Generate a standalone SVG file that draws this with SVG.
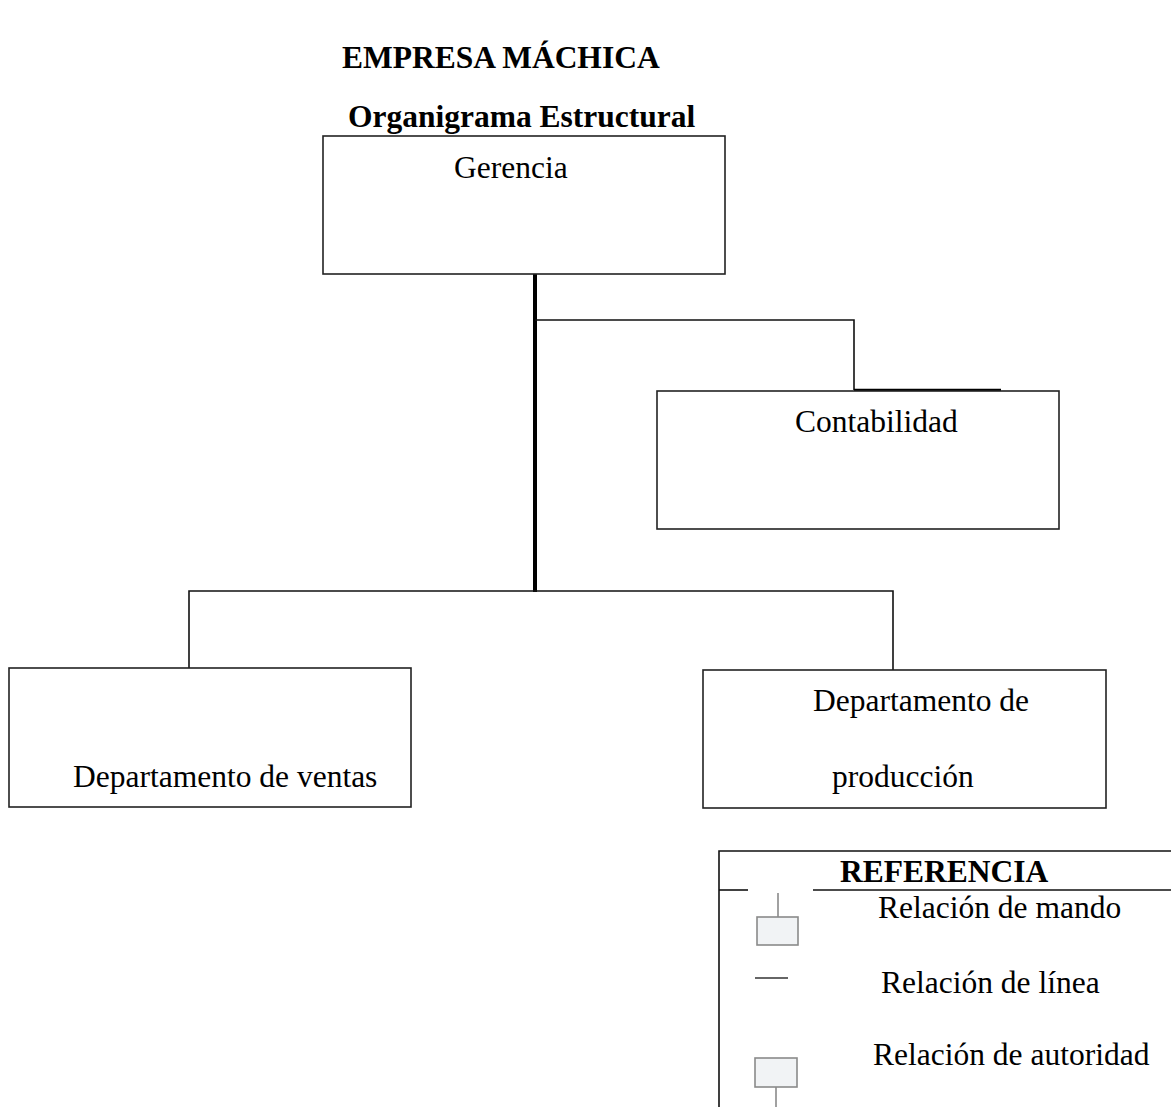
<svg xmlns="http://www.w3.org/2000/svg" width="1171" height="1107" viewBox="0 0 1171 1107">
<style>
text{font-family:"Liberation Serif","Times New Roman",serif;font-size:31.5px;fill:#000}
.b{font-weight:bold}
.box{fill:#fff;stroke:#222;stroke-width:1.6}
.ln{stroke:#111;stroke-width:1.6;fill:none}
.icon{fill:#f1f3f5;stroke:#8a8a8a;stroke-width:1.6}
.iconln{stroke:#8a8a8a;stroke-width:1.6}
</style>
<rect width="1171" height="1107" fill="#fff"/>
<g id="title">
<text class="b" x="342" y="68">EMPRESA MÁCHICA</text>
<text class="b" x="348" y="127">Organigrama Estructural</text>
</g>
<g id="connectors">
<line x1="535" y1="274" x2="535" y2="592" stroke="#000" stroke-width="4"/>
<polyline class="ln" points="535,320 854,320 854,390"/>
<line x1="854" y1="390" x2="1001" y2="390" stroke="#000" stroke-width="2.6"/>
<polyline class="ln" points="189,671 189,591 893,591 893,670"/>
</g>
<g id="gerencia">
<rect class="box" x="323" y="136" width="402" height="138"/>
<text x="454" y="178">Gerencia</text>
</g>
<g id="contabilidad">
<rect class="box" x="657" y="391" width="402" height="138"/>
<text x="795" y="432">Contabilidad</text>
</g>
<g id="ventas">
<rect class="box" x="9" y="668" width="402" height="139"/>
<text x="73" y="787">Departamento de ventas</text>
</g>
<g id="produccion">
<rect class="box" x="703" y="670" width="403" height="138"/>
<text x="813" y="711">Departamento de</text>
<text x="832" y="787">producción</text>
</g>
<g id="referencia">
<polyline class="ln" points="719,1107 719,851 1171,851"/>
<line class="ln" x1="719" y1="890" x2="748" y2="890"/>
<line class="ln" x1="813" y1="890" x2="1171" y2="890"/>
<text class="b" x="840" y="882">REFERENCIA</text>
<line class="iconln" x1="778" y1="893" x2="778" y2="917"/>
<rect class="icon" x="757" y="917" width="41" height="28"/>
<text x="878" y="918">Relación de mando</text>
<line x1="755" y1="978" x2="788" y2="978" stroke="#333" stroke-width="1.6"/>
<text x="881" y="993">Relación de línea</text>
<rect class="icon" x="755" y="1058" width="42" height="29"/>
<line class="iconln" x1="776" y1="1087" x2="776" y2="1107"/>
<text x="873" y="1065">Relación de autoridad</text>
</g>
</svg>
